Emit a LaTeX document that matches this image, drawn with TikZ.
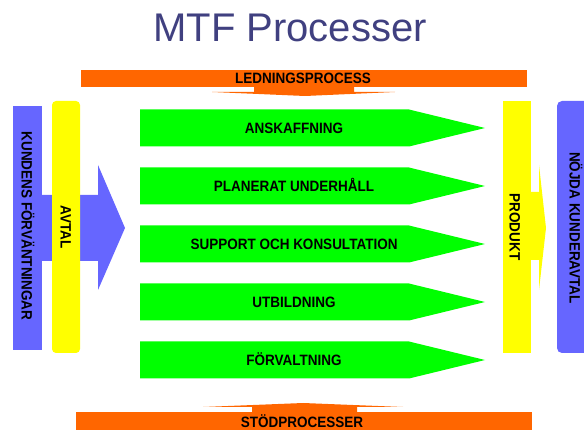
\documentclass[tikz,border=0pt]{standalone}
\usepackage{fontspec}
\setmainfont{Liberation Sans}
\newfontfamily\lblfont[FakeStretch=0.9]{Liberation Sans}
\definecolor{titleblue}{RGB}{64,64,128}
\definecolor{procgreen}{RGB}{0,255,0}
\definecolor{sideblue}{RGB}{102,102,255}
\definecolor{baryellow}{RGB}{255,255,0}
\definecolor{barorange}{RGB}{255,102,0}
\begin{document}
\begin{tikzpicture}[x=1pt,y=-1pt,
  lbl/.style={font=\lblfont\bfseries\fontsize{15}{16}\selectfont, inner sep=0pt, text height=10.7pt, text depth=0pt, anchor=center},
  vlbl/.style={lbl, rotate=-90}]
\useasboundingbox (0,0) rectangle (584,430);
% title
\node[font=\fontsize{40}{44}\selectfont, text=titleblue, inner sep=0pt, anchor=base] (title) at (290,42) {MTF Processer};
% top management bar with down arrow
\fill[barorange] (254,86) -- (354,86) -- (354,92) -- (395,92) -- (305,96) -- (212,92) -- (254,92) -- cycle;
\fill[barorange] (81,70) rectangle (527,87);
\node[lbl] (ledning) at (303,78.5) {LEDNINGSPROCESS};
% bottom support bar with up arrow
\fill[barorange] (252,413) -- (252,407) -- (203,407) -- (303,403) -- (403,407) -- (357,407) -- (357,413) -- cycle;
\fill[barorange] (76,412) rectangle (532,434);
\node[lbl] (stod) at (302,422.5) {STÖDPROCESSER};
% left big arrow
\fill[sideblue] (20,195) -- (98,195) -- (98,165) -- (125,228) -- (98,290) -- (98,261) -- (20,261) -- cycle;
\fill[sideblue] (13,106) rectangle (42,350);
\node[vlbl] (kund) at (27,226) {KUNDENS FÖRVÄNTNINGAR};
\fill[baryellow, rounded corners=4pt] (52,101) rectangle (80,353);
\node[vlbl] (avtal) at (66,227) {AVTAL};
% right yellow arrow
\fill[baryellow] (515,192) -- (539,192) -- (539,165) -- (546,228) -- (539,290) -- (539,260) -- (515,260) -- cycle;
\fill[baryellow] (503,101) rectangle (531,353);
\node[vlbl] (produkt) at (515,227) {PRODUKT};
\fill[sideblue, rounded corners=5pt] (557,101) rectangle (600,353);
\node[vlbl] (nojda) at (575,228) {NÖJDA KUNDERAVTAL};
% process arrows
\foreach \yy/\tt/\nn in {128/ANSKAFFNING/p1, 186/PLANERAT UNDERHÅLL/p2, 244/SUPPORT OCH KONSULTATION/p3, 302/UTBILDNING/p4, 360/FÖRVALTNING/p5}{
  \fill[procgreen] (140,{\yy-18.5}) -- (409,{\yy-18.5}) -- (485,\yy) -- (409,{\yy+18.5}) -- (140,{\yy+18.5}) -- cycle;
  \node[lbl] (\nn) at (294,\yy) {\tt};
}
\end{tikzpicture}
\end{document}
